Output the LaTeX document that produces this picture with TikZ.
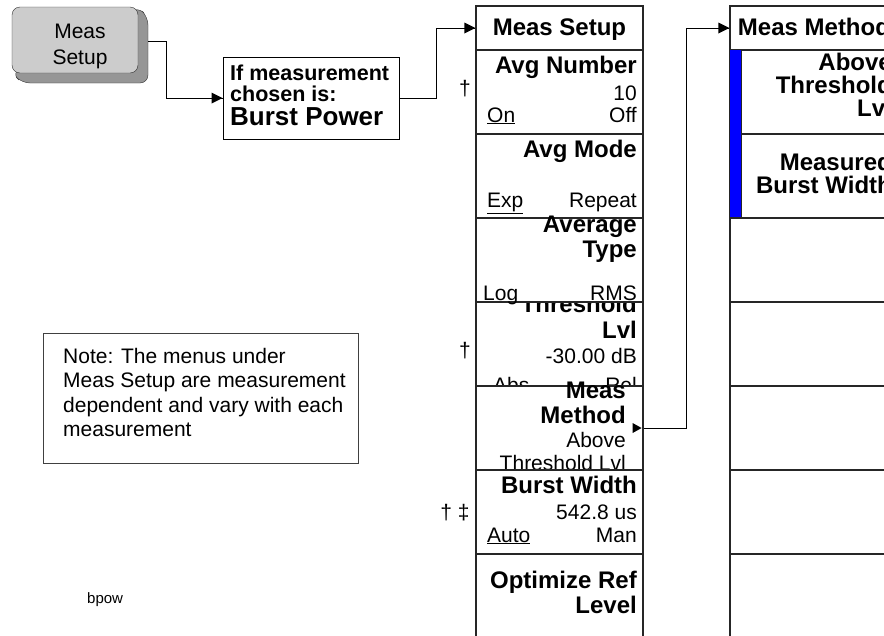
\documentclass[tikz,border=0pt]{standalone}
\usepackage{fontspec}
\setmainfont{Liberation Sans}
\definecolor{keyface}{RGB}{204,204,204}
\definecolor{keyshade}{RGB}{150,150,150}
\definecolor{selbar}{RGB}{0,0,255}
\newcommand{\menubf}{\fontsize{24}{24}\selectfont\bfseries}
\newcommand{\menurm}{\fontsize{21}{21}\selectfont}
\newcommand{\keyfont}{\fontsize{21}{21}\selectfont}
\newcommand{\notefont}{\fontsize{21}{24.5}\selectfont}
\tikzset{
  menucell/.style={draw=black!85, fill=white, line width=1.2pt, minimum width=167pt, minimum height=84pt},
  menuhead/.style={menucell, minimum height=44pt},
  lbl/.style={anchor=base east, font=\menubf},
  val/.style={anchor=base east, font=\menurm},
  valL/.style={anchor=base west, font=\menurm},
  wire/.style={draw=black, line width=1pt},
}
\begin{document}
\begin{tikzpicture}[x=1pt,y=-1pt]
      \tikzstyle{every node}+=[inner sep=0pt]
      \useasboundingbox (0,0) rectangle (884,635);
      \clip (0,0) rectangle (884,635);
      % hardkey
      \fill [keyshade, draw=black!80, rounded corners=8pt] (12,73) -- (22,83) -- (148,83) -- (148,17) -- (138,7) -- cycle;
      \node [draw=black!80, fill=keyface, rounded corners=8pt, minimum width=126pt, minimum height=66pt] (key) at (75,40) {};
      \node [anchor=base, font=\keyfont] (keytop) at (80,38) {Meas};
      \node [anchor=base, font=\keyfont] (keybot) at (80,64) {Setup};
      \coordinate (keyout) at (148,41);
      % condition
      \node [draw=black, line width=1pt, minimum width=176pt, minimum height=82pt] (cond) at (311,98) {};
      \node [anchor=base west, font=\fontsize{21.5}{21.5}\selectfont\bfseries] (cond1) at (230,80) {If measurement};
      \node [anchor=base west, font=\fontsize{21.5}{21.5}\selectfont\bfseries] (cond2) at (230,101) {chosen is:};
      \node [anchor=base west, font=\fontsize{26}{26}\selectfont\bfseries] (cond3) at (230,125) {Burst Power};
      \draw [wire] (keyout) -- ++(18,0) |- (cond.west);
      \fill [black] (cond.west) -- ++(-11,-5.5) -- ++(0,11) -- cycle;
      % meas setup menu
      \node [menuhead] (title1) at (559.5,28) {};
      \node [anchor=base, font=\menubf] (title1txt) at (559.5,35) {Meas Setup};
      \node [menucell] (avgnum) at (559.5,92) {};
      \node [lbl] (avgnum1) at (637,73) {Avg Number};
      \node [val] (avgnum2) at (637,100) {10};
      \node [valL] (avgnum3) at (487,122) {\underline{On}};
      \node [val] (avgnum4) at (637,122) {Off};
      \node [anchor=base, font=\menurm] (avgnumdag) at (465,95) {†};
      \node [menucell] (avgmode) at (559.5,176) {};
      \node [lbl] (avgmode1) at (637,157) {Avg Mode};
      \node [valL] (avgmode2) at (487,207) {\underline{Exp}};
      \node [val] (avgmode3) at (637,207) {Repeat};
      \node [menucell] (thresh) at (559.5,344) {};
      \node [lbl] (thresh1) at (637,312) {Threshold};
      \node [lbl] (thresh2) at (637,338) {Lvl};
      \node [val] (thresh3) at (637,363) {-30.00 dB};
      \node [valL] (thresh4) at (493,392) {Abs};
      \node [val] (thresh5) at (637,392) {Rel};
      \node [anchor=base, font=\menurm] (threshdag) at (465,357) {†};
      \node [menucell] (avgtype) at (559.5,260) {};
      \node [lbl] (avgtype1) at (637,232) {Average};
      \node [lbl] (avgtype2) at (637,257) {Type};
      \node [valL] (avgtype3) at (483,300) {Log};
      \node [val] (avgtype4) at (637,300) {RMS};
      \node [menucell] (method) at (559.5,428) {};
      \node [lbl] (method1) at (626,398) {Meas};
      \node [lbl] (method2) at (626,423) {Method};
      \node [val] (method3) at (626,447) {Above};
      \node [val] (method4) at (626,470) {Threshold Lvl};
      \fill [black] ([xshift=-2pt]method.east) -- ++(-9,-5) -- ++(0,10) -- cycle;
      \node [menucell] (burst) at (559.5,512) {};
      \node [lbl] (burst1) at (637,493) {Burst Width};
      \node [val] (burst2) at (637,519) {542.8 us};
      \node [valL] (burst3) at (487,542) {\underline{Auto}};
      \node [val] (burst4) at (637,542) {Man};
      \node [anchor=base, font=\menurm] (burstdag) at (455,519) {† ‡};
      \node [menucell] (optref) at (559.5,596) {};
      \node [lbl] (optref1) at (637,588) {Optimize Ref};
      \node [lbl] (optref2) at (637,613) {Level};
      \draw [wire] (cond.east) -- ++(37,0) |- (title1.west);
      \fill [black] (title1.west) -- ++(-11,-5.5) -- ++(0,11) -- cycle;
      % meas method menu
      \node [menuhead, minimum width=168pt] (title2) at (814,28) {};
      \node [anchor=base, font=\menubf] (title2txt) at (814,35) {Meas Method};
      \node [menucell, minimum width=168pt] (above) at (814,92) {};
      \node [lbl] (above1) at (892,70) {Above};
      \node [lbl] (above2) at (892,93) {Threshold};
      \node [lbl] (above3) at (892,116) {Lvl};
      \node [menucell, minimum width=168pt] (measbw) at (814,176) {};
      \node [lbl] (measbw1) at (892,170) {Measured};
      \node [lbl] (measbw2) at (892,193) {Burst Width};
      \fill [selbar, draw=black!85, line width=0.8pt] (above.north west) rectangle ([xshift=12pt]measbw.south west);
      \node [menucell, minimum width=168pt] (blank3) at (814,260) {};
      \node [menucell, minimum width=168pt] (blank4) at (814,344) {};
      \node [menucell, minimum width=168pt] (blank5) at (814,428) {};
      \node [menucell, minimum width=168pt] (blank6) at (814,512) {};
      \node [menucell, minimum width=168pt] (blank7) at (814,596) {};
      \draw [wire] (method.east) -- ++(43,0) |- (title2.west);
      \fill [black] (title2.west) -- ++(-11,-5.5) -- ++(0,11) -- cycle;
      % note
      \node [draw=black!75, line width=1pt, minimum width=315pt, minimum height=130pt] (note) at (200.5,398) {};
      \node [anchor=north west, align=left, font=\notefont] (notetxt) at (63,348) {Note: The menus under\\Meas Setup are measurement\\dependent and vary with each\\measurement};
      \node [anchor=base west, font=\fontsize{15}{15}\selectfont] (figname) at (87,603) {bpow};
\end{tikzpicture}
\end{document}
